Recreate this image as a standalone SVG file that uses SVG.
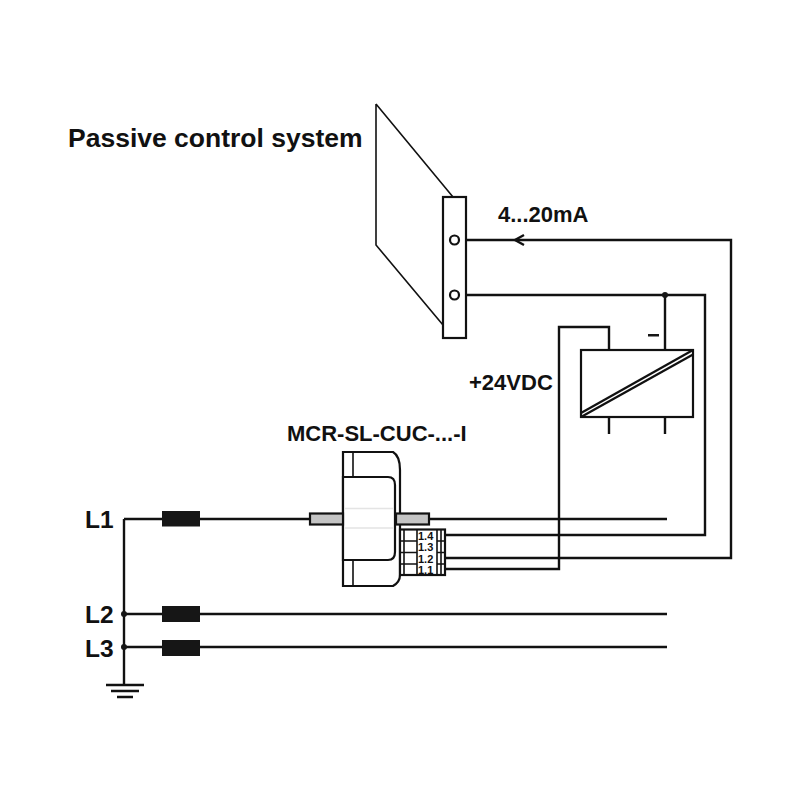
<svg xmlns="http://www.w3.org/2000/svg" width="800" height="800" viewBox="0 0 800 800">
<style>
.w{fill:none;stroke:#111;stroke-width:2.4}
.t{fill:none;stroke:#111;stroke-width:1.6}
.n{fill:#fff;stroke:#111;stroke-width:2.2}
.f{fill:#161616;stroke:none}
.g{fill:#c4c4c4;stroke:#111;stroke-width:2.2}
text{font-family:"Liberation Sans",Arial,sans-serif;font-weight:bold;fill:#111}
.h{font-size:26.500px}
.l{font-size:24.500px}
.m{font-size:22px}
.b{font-size:20.500px}
.s{font-size:11px}
</style>
<rect width="800" height="800" fill="#fff"/>
<g id="connectors">
<path class="w" d="M467 240H731V558H445"/>
<path class="w" d="M467 295H705V535H445"/>
<path class="w" d="M665 295V350"/>
<path class="w" d="M609 350V327H559V569H445"/>
<path class="w" d="M524 235L515 240L524 245"/>
<path class="w" d="M429 519H667"/>
<path class="w" d="M124 519H310"/>
<path class="w" d="M124 519V684"/>
<path class="w" d="M124 614H667"/>
<path class="w" d="M124 647H667"/>
<circle class="f" cx="665" cy="295" r="3"/>
<circle class="f" cx="124" cy="614" r="3"/>
<circle class="f" cx="124" cy="647" r="3"/>
<path class="w" d="M609 417V434M665 417V434"/>
</g>
<g id="system">
<path class="t" d="M376 104L453 197M376 104V245L443 325"/>
<rect class="n" x="443" y="197" width="23" height="141"/>
<circle class="n" cx="454.500" cy="240" r="4.500"/>
<circle class="n" cx="454.500" cy="295" r="4.500"/>
<text class="h" x="68" y="147">Passive control system</text>
<text class="m" x="498" y="222">4...20mA</text>
</g>
<g id="power">
<rect class="n" x="581" y="350" width="112" height="67"/>
<path d="M581 413L693 350" stroke="#111" stroke-width="2.200" fill="none"/>
<path d="M581 417L693 354.500" stroke="#111" stroke-width="2.200" fill="none"/>
<rect class="f" x="648" y="334" width="11" height="2.500"/>
<text class="m" x="469" y="390">+24VDC</text>
</g>
<g id="sensor">
<path class="n" d="M343 452H393Q400 456 400 470V575Q400 582 393 586H343Z"/>
<path class="n" d="M343 477H388Q395 477 395 485V552Q395 560 388 560H343Z"/>
<path class="t" d="M353 452V477M353 560V586" stroke-width="2.200"/>
<path d="M345 508.500H394M345 528H394" stroke="#e4e4e4" stroke-width="1.500" fill="none"/>
<rect class="g" x="310" y="513.500" width="33" height="11"/>
<rect class="g" x="396" y="513.500" width="33" height="11"/>
<text class="m" x="287" y="441">MCR-SL-CUC-...-I</text>
</g>
<g id="terminals">
<rect class="n" x="400" y="529.500" width="45" height="45.500"/>
<path class="t" d="M400 541H417M400 552.500H417M400 564H417M437 541H445M437 552.500H445M437 564H445M404 529.500V575M417 529.500V575M437 529.500V575M441 529.500V575"/>
<text class="s" x="418" y="540">1.4</text>
<text class="s" x="418" y="551">1.3</text>
<text class="s" x="418" y="562.500">1.2</text>
<text class="s" x="418" y="574">1.1</text>
</g>
<g id="L1">
<rect class="f" x="162" y="511" width="38" height="15.500"/>
<text class="l" x="85" y="528">L1</text>
</g>
<g id="L2">
<rect class="f" x="162" y="606" width="38" height="16"/>
<text class="l" x="85" y="623">L2</text>
</g>
<g id="L3">
<rect class="f" x="162" y="640" width="38" height="16"/>
<text class="l" x="85" y="657">L3</text>
</g>
<g id="ground">
<path class="w" d="M106 685H144M111 691H139M117 697H133" stroke-width="2"/>
</g>
</svg>
